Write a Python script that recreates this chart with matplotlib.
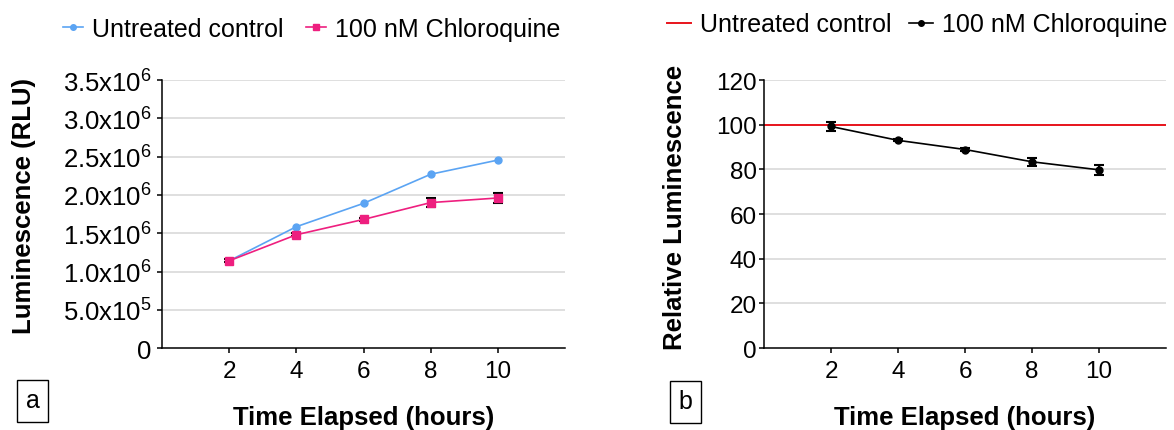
import matplotlib
matplotlib.use('Agg')
import matplotlib.pyplot as plt
from matplotlib.lines import Line2D

plt.rcParams['font.family'] = ['Liberation Sans', 'DejaVu Sans']
plt.rcParams['mathtext.default'] = 'regular'

# data
hours = [2, 4, 6, 8, 10]
control_rlu = [1.14e6, 1.585e6, 1.89e6, 2.27e6, 2.455e6]
chloro_rlu = [1.14e6, 1.48e6, 1.68e6, 1.90e6, 1.96e6]
chloro_rlu_err = [0.02e6, 0.02e6, 0.02e6, 0.06e6, 0.065e6]
rel_lum = [99.2, 93.0, 88.9, 83.4, 79.8]
rel_lum_err = [1.8, 0.5, 0.5, 1.8, 2.2]
control_level = 100

yticks_a = [0, 0.5e6, 1.0e6, 1.5e6, 2.0e6, 2.5e6, 3.0e6, 3.5e6]
ytick_labels_a = ['0', '5.0x10$^{5}$', '1.0x10$^{6}$', '1.5x10$^{6}$',
                  '2.0x10$^{6}$', '2.5x10$^{6}$', '3.0x10$^{6}$', '3.5x10$^{6}$']
yticks_b = [0, 20, 40, 60, 80, 100, 120]

blue = '#5ba4f3'
pink = '#ee1f7f'
red = '#e8141c'
tick_fs = 17.5
label_fs = 18.5
legend_fs = 18

fig = plt.figure(figsize=(11.74, 4.31), dpi=100)
ax1 = fig.add_axes([0.138, 0.19, 0.3433, 0.622])
ax2 = fig.add_axes([0.6508, 0.19, 0.3424, 0.622])


def style(ax, yticks):
    for s in ['top', 'right']:
        ax.spines[s].set_visible(False)
    for s in ['left', 'bottom']:
        ax.spines[s].set_linewidth(1.1)
    ax.set_xlim(0, 12)
    ax.set_xticks(hours)
    ax.set_yticks(yticks)
    ax.set_ylim(yticks[0], yticks[-1])
    for y in yticks[1:]:
        ax.axhline(y, color='#d6d6d6', lw=1.1, zorder=0)
    ax.tick_params(length=3.5, width=1.1, direction='out', labelsize=tick_fs)
    ax.tick_params(axis='x', pad=5)
    ax.tick_params(axis='y', pad=1.5)
    ax.set_xlabel('Time Elapsed (hours)', fontsize=label_fs, fontweight='bold', va='center')
    ax.xaxis.set_label_coords(0.5, -0.258)


# panel a
style(ax1, yticks_a)
ax1.set_yticklabels(ytick_labels_a)
ax1.tick_params(axis='y', labelsize=18.5, pad=4)
ax1.plot(hours, control_rlu, color=blue, marker='o', ms=5, lw=1.2, zorder=3)
ax1.errorbar(hours, chloro_rlu, yerr=chloro_rlu_err, color=pink, marker='s', ms=5.5,
             lw=1.2, ecolor='black', elinewidth=1.5, capsize=3.5, capthick=1.5, zorder=4)
ax1.set_ylabel('Luminescence (RLU)', fontsize=label_fs, fontweight='bold', va='center')
ax1.yaxis.set_label_coords(-0.343, 0.532)
handles_a = [Line2D([], [], color=blue, marker='o', ms=4, lw=1.2),
             Line2D([], [], color=pink, marker='s', ms=4, lw=1.2)]
ax1.legend(handles_a, ['Untreated control', '100 nM Chloroquine'],
           loc='center left', bbox_to_anchor=(-0.246, 1.19), ncol=2, frameon=False,
           fontsize=legend_fs, handlelength=0.8, handletextpad=0.36, columnspacing=0.92,
           borderaxespad=0, borderpad=0)

# panel b
style(ax2, yticks_b)
ax2.axhline(control_level, color=red, lw=1.4, zorder=2)
ax2.errorbar(hours, rel_lum, yerr=rel_lum_err, color='black', marker='o', ms=5,
             lw=1.2, elinewidth=1.5, capsize=3.5, capthick=1.5, zorder=3)
ax2.set_ylabel('Relative Luminescence', fontsize=label_fs, fontweight='bold', va='center')
ax2.yaxis.set_label_coords(-0.221, 0.528)
handles_b = [Line2D([], [], color=red, lw=1.4),
             Line2D([], [], color='black', marker='o', ms=4, lw=1.2)]
ax2.legend(handles_b, ['Untreated control', '100 nM Chloroquine'],
           loc='center left', bbox_to_anchor=(-0.241, 1.208), ncol=2, frameon=False,
           fontsize=legend_fs, handlelength=0.95, handletextpad=0.36, columnspacing=0.72,
           borderaxespad=0, borderpad=0)

box = dict(boxstyle='square,pad=0.36', facecolor='white', edgecolor='black', lw=1)
fig.text(32.5 / 1174, 1 - 401.5 / 431, 'a', fontsize=18, ha='center', va='center', bbox=box)
fig.text(685.5 / 1174, 1 - 402.5 / 431, 'b', fontsize=18, ha='center', va='center', bbox=box)

fig.savefig('out.png', dpi=100)
